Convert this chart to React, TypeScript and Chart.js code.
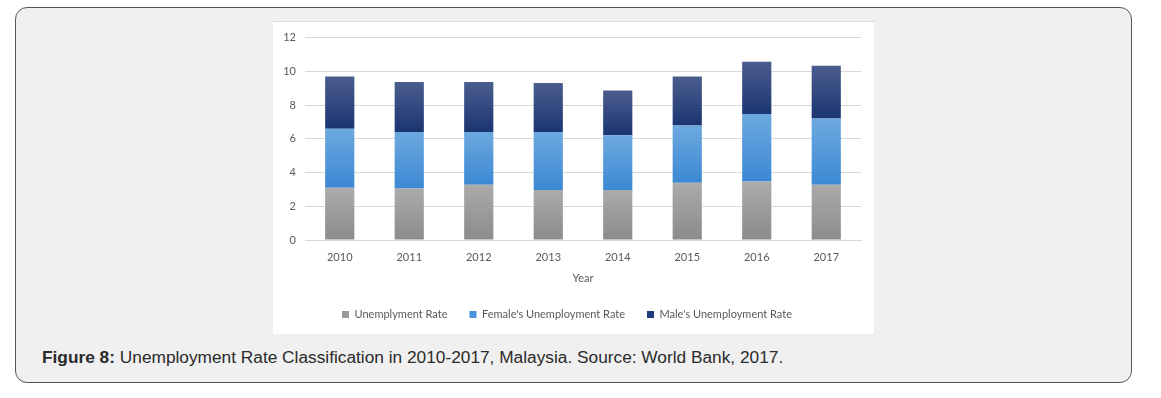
import React, { useEffect, useRef } from "react";
import { Chart, registerables } from "chart.js";

Chart.register(...registerables);

const years = ["2010", "2011", "2012", "2013", "2014", "2015", "2016", "2017"];
const unemploymentRate = [3.1, 3.05, 3.27, 2.97, 2.97, 3.39, 3.47, 3.27];
const femaleRate = [3.5, 3.36, 3.14, 3.44, 3.24, 3.4, 4.0, 3.93];
const maleRate = [3.1, 2.96, 2.96, 2.9, 2.66, 2.9, 3.1, 3.13];
const seriesLabels = ["Unemplyment Rate", "Female's Unemployment Rate", "Male's Unemployment Rate"];
const yTicks = [0, 2, 4, 6, 8, 10, 12];

const allSeries = [unemploymentRate, femaleRate, maleRate];
const gradTop = ["#ababab", "#6da9df", "#4b5d8e"];
const gradBottom = ["#8b8b8b", "#3c88d4", "#1b3571"];
const legendColors = ["#9a9a9a", "#4c93da", "#1f3a76"];

function makeGradient(ctx: any, ds: number) {
  const chart = ctx.chart;
  if (!chart.chartArea || ctx.type !== "data") return gradBottom[ds];
  const i = ctx.dataIndex;
  let base = 0;
  for (let k = 0; k < ds; k++) base += allSeries[k][i];
  const v = allSeries[ds][i];
  const y = chart.scales.y;
  if (!y) return gradBottom[ds];
  const y0 = y.getPixelForValue(base);
  const y1 = y.getPixelForValue(base + v);
  if (!isFinite(y0) || !isFinite(y1)) return gradBottom[ds];
  const g = chart.ctx.createLinearGradient(0, y1, 0, y0);
  g.addColorStop(0, gradTop[ds]);
  g.addColorStop(1, gradBottom[ds]);
  return g;
}

function BarChart() {
  const ref = useRef<HTMLCanvasElement>(null);
  useEffect(() => {
    if (!ref.current) return;
    const font = { family: "Lato, 'Open Sans', sans-serif", size: 11 };
    const chart = new Chart(ref.current, {
      type: "bar",
      data: {
        labels: years,
        datasets: allSeries.map((s, ds) => ({
          label: seriesLabels[ds],
          data: s,
          backgroundColor: (ctx: any) => makeGradient(ctx, ds),
          borderWidth: 0,
          barPercentage: 0.42,
          categoryPercentage: 1.0,
        })),
      },
      options: {
        animation: false,
        responsive: false,
        maintainAspectRatio: false,
        layout: { padding: { left: 0, right: 13, top: 11, bottom: 4 } },
        plugins: {
          tooltip: { enabled: false },
          legend: {
            position: "bottom",
            labels: {
              font,
              color: "#595959",
              boxWidth: 7,
              boxHeight: 7,
              padding: 22,
              generateLabels: () =>
                seriesLabels.map((t, i) => ({
                  text: t,
                  fillStyle: legendColors[i],
                  strokeStyle: legendColors[i],
                  lineWidth: 0,
                  hidden: false,
                  datasetIndex: i,
                  fontColor: "#595959",
                })),
            },
          },
        },
        scales: {
          x: {
            stacked: true,
            grid: { display: false, drawTicks: false },
            border: { display: true, color: "#d9d9d9", width: 1 },
            ticks: { font, color: "#595959", padding: 11 },
            title: { display: true, text: "Year", font, color: "#595959", padding: { top: 6, bottom: 2 } },
            afterFit: (s: any) => {
              s.height = 47;
            },
          },
          y: {
            stacked: true,
            min: 0,
            max: 12,
            afterBuildTicks: (s: any) => {
              s.ticks = yTicks.map((v) => ({ value: v }));
            },
            grid: { color: "#d9d9d9", drawTicks: false, lineWidth: 1 },
            border: { display: false },
            ticks: { font, color: "#595959", padding: 9 },
            afterFit: (s: any) => {
              s.width = 32;
            },
          },
        },
      },
    });
    return () => chart.destroy();
  }, []);
  return <canvas ref={ref} width={601} height={312} style={{ display: "block" }} />;
}

export default function App() {
  return (
    <div
      style={{
        position: "absolute",
        left: 15,
        top: 7,
        width: 1115,
        height: 374,
        background: "#f0f0f0",
        border: "1px solid #555",
        borderRadius: 12,
      }}
    >
      <div
        style={{
          position: "absolute",
          left: 257,
          top: 14,
          width: 601,
          height: 312,
          background: "#ffffff",
          boxShadow: "0 -1px 0 #dcdcdc",
        }}
      >
        <BarChart />
      </div>
      <div
        style={{
          position: "absolute",
          left: 26,
          top: 339,
          fontFamily: "'Liberation Sans', Arial, sans-serif",
          fontSize: 17.3,
          color: "#2a2a2a",
          whiteSpace: "nowrap",
        }}
      >
        <b>Figure 8:</b> Unemployment Rate Classification in 2010-2017, Malaysia. Source: World Bank, 2017.
      </div>
    </div>
  );
}
